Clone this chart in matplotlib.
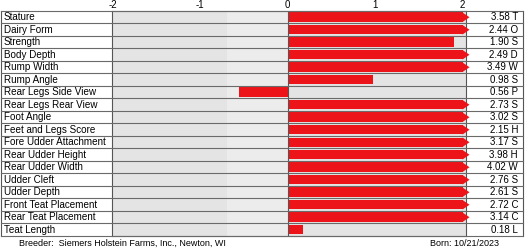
import matplotlib
matplotlib.use("Agg")
import matplotlib.pyplot as plt
import matplotlib.transforms as mtrans

traits = ["Stature", "Dairy Form", "Strength", "Body Depth", "Rump Width",
          "Rump Angle", "Rear Legs Side View", "Rear Legs Rear View",
          "Foot Angle", "Feet and Legs Score", "Fore Udder Attachment",
          "Rear Udder Height", "Rear Udder Width", "Udder Cleft",
          "Udder Depth", "Front Teat Placement", "Rear Teat Placement",
          "Teat Length"]
values = [3.58, 2.44, 1.90, 2.49, 3.49, 0.98, -0.56, 2.73, 3.02, 2.15,
          3.17, 3.98, 4.02, 2.76, 2.61, 2.72, 3.14, 0.18]
letters = ["T", "O", "S", "D", "W", "S", "P", "S", "S", "H", "S", "H",
           "W", "S", "S", "C", "C", "L"]
ticks = [-2, -1, 0, 1, 2]
breeder = "Siemers Holstein Farms, Inc., Newton, WI"
born = "10/21/2023"

W, H = 526, 250
plt.rcParams['font.family'] = ['Liberation Sans', 'DejaVu Sans']
fig = plt.figure(figsize=(W / 100, H / 100), dpi=100)
x0, x1, ytop, ybot = 112, 466, 11, 236
ax = fig.add_axes([x0 / W, (H - ybot) / H, (x1 - x0) / W, (ybot - ytop) / H])
ax.set_facecolor("#e4e4e4")
# lighter band just left of zero
ax.axvspan(-0.7, 0, color="#ececec", lw=0, zorder=0)

n = len(traits)
cap = 2.0
red = "#ec1419"
for i, v in enumerate(values):
    if v > cap:
        ax.barh(i, 2.0, height=0.76, color=red, left=0, zorder=2)
        ax.fill([2.0, 2.08, 2.0], [i - 0.38, i, i + 0.38],
                color=red, zorder=4, lw=0, clip_on=False)
    else:
        ax.barh(i, v, height=0.76, color=red, left=0, zorder=2)

ax.set_xlim(-2.01, 2.04)
ax.set_ylim(n - 0.5, -0.5)
ax.xaxis.tick_top()
ax.set_xticks(ticks)
ax.set_xticklabels([str(t) for t in ticks], fontsize=7)
ax.tick_params(axis="x", length=0, pad=1)
ax.set_yticks([])
for s in ax.spines.values():
    s.set_color("#555555")
    s.set_linewidth(0.8)
ax.axvline(0, color="#555555", lw=0.8, zorder=3)

pw = x1 - x0
trans = mtrans.blended_transform_factory(ax.transAxes, ax.transData)
for i in range(n + 1):
    ax.axhline(i - 0.5, xmin=(1 - x0) / pw, xmax=(523 - x0) / pw,
               color="#6a6a6a", lw=0.8, clip_on=False, zorder=3)
for i, (v, lab, let) in enumerate(zip(values, traits, letters)):
    ax.text((4 - x0) / pw, i, lab, transform=trans, fontsize=7.1,
            va="center", ha="left")
    ax.text((518 - x0) / pw, i, f"{abs(v):.2f} {let}",
            transform=trans, fontsize=7, va="center", ha="right")
for xp in (1, 523):
    ax.plot([(xp - x0) / pw] * 2, [-0.5, n - 0.5], transform=trans,
            color="#555555", lw=0.8, clip_on=False)

fig.text(19 / W, 1 - 243 / H, "Breeder:  " + breeder, fontsize=6.5,
         va="center", ha="left")
fig.text(430 / W, 1 - 243 / H, "Born: " + born, fontsize=6.5,
         va="center", ha="left")

fig.savefig("out.png", dpi=100)
